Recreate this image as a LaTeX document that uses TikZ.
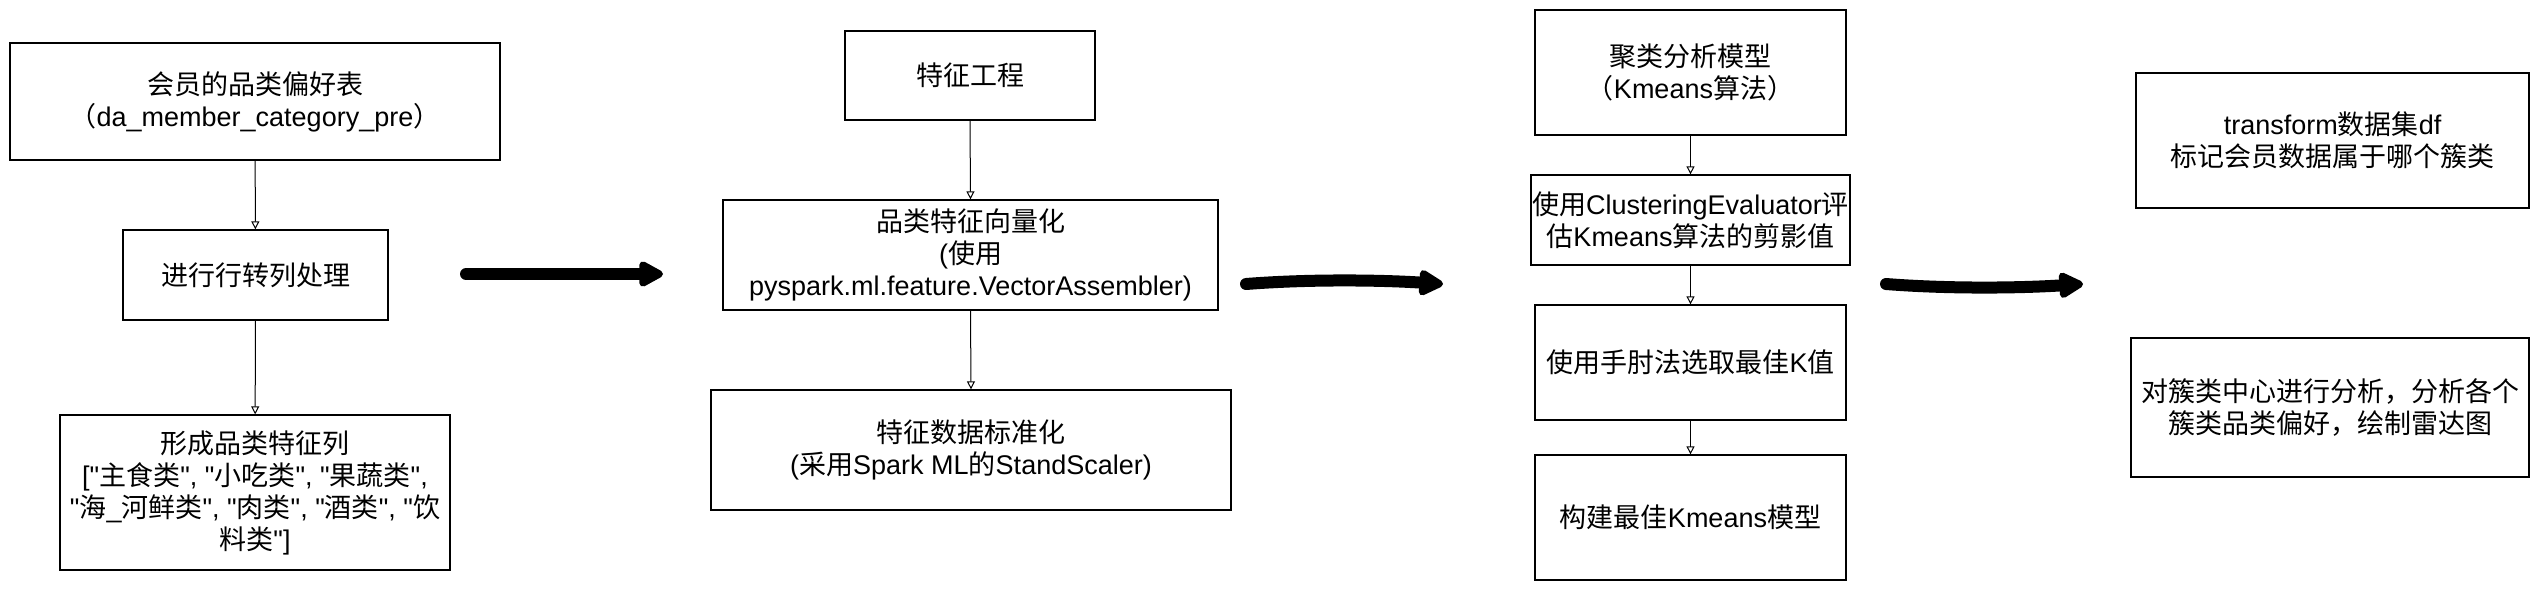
\documentclass[tikz,border=0pt]{standalone}
\usepackage{fontspec}
\setmainfont{Liberation Sans}
\newfontfamily\zhfont{Noto Sans CJK SC}
\newcommand\zh[1]{{\zhfont #1}}
\newcommand\qq{\XeTeXglyph\XeTeXcharglyph"22\relax}
\usetikzlibrary{arrows.meta}
\begin{document}
\begin{tikzpicture}[x=1pt,y=-1pt,
  box/.style={draw=black, line width=1.3pt, fill=white, inner sep=0pt, align=center,
    font=\fontsize{27}{32}\selectfont},
  thin/.style={draw=black, line width=1pt, -{Triangle[open,length=8pt,width=8pt]}},
  big/.style={draw=black, line width=12pt, line cap=round, -{Triangle[length=28pt,width=28pt,round]}}]
\useasboundingbox[fill=white] (0,0) rectangle (2540,592);
% column 1
\node[box, minimum width=490pt, minimum height=117pt] (b1) at (255,101.5)
  {\zh{会员的品类偏好表}\\\zh{（}da\_member\_category\_pre\zh{）}};
\node[box, minimum width=265pt, minimum height=90pt] (b2) at (255.5,275)
  {\zh{进行行转列处理}};
\node[box, minimum width=390pt, minimum height=155pt] (b3) at (255,492.5)
  {\zh{形成品类特征列}\\{[}\qq\zh{主食类}\qq, \qq\zh{小吃类}\qq, \qq\zh{果蔬类}\qq,\\\qq\zh{海}\_\zh{河鲜类}\qq, \qq\zh{肉类}\qq, \qq\zh{酒类}\qq, \qq\zh{饮}\\\zh{料类}\qq]};
% column 2
\node[box, minimum width=250pt, minimum height=89pt] (b4) at (970,75.5)
  {\zh{特征工程}};
\node[box, minimum width=495pt, minimum height=110pt] (b5) at (970.5,255)
  {\zh{品类特征向量化}\\(\zh{使用}\\pyspark.ml.feature.VectorAssembler)};
\node[box, minimum width=520pt, minimum height=120pt] (b6) at (971,450)
  {\zh{特征数据标准化}\\(\zh{采用}Spark ML\zh{的}StandScaler)};
% column 3
\node[box, minimum width=311pt, minimum height=125pt] (b7) at (1690.5,72.5)
  {\zh{聚类分析模型}\\\zh{（}Kmeans\zh{算法）}};
\node[box, minimum width=319pt, minimum height=90pt] (b8) at (1690.5,220)
  {\zh{使用}ClusteringEvaluator\zh{评}\\\zh{估}Kmeans\zh{算法的剪影值}};
\node[box, minimum width=311pt, minimum height=115pt] (b9) at (1690.5,362.5)
  {\zh{使用手肘法选取最佳}K\zh{值}};
\node[box, minimum width=311pt, minimum height=125pt] (b10) at (1690.5,517.5)
  {\zh{构建最佳}Kmeans\zh{模型}};
% column 4
\node[box, minimum width=393pt, minimum height=135pt] (b11) at (2332.5,140.5)
  {transform\zh{数据集}df\\\zh{标记会员数据属于哪个簇类}};
\node[box, minimum width=398pt, minimum height=139pt] (b12) at (2330,407.5)
  {\zh{对簇类中心进行分析，分析各个}\\\zh{簇类品类偏好，绘制雷达图}};
% thin connectors
\draw[thin] (b1) -- (b2);
\draw[thin] (b2) -- (b3);
\draw[thin] (b4.south) -- (b5.north);
\draw[thin] (b5.south) -- (b6.north);
\draw[thin] (b7) -- (b8);
\draw[thin] (b8) -- (b9);
\draw[thin] (b9) -- (b10);
% big arrows
\coordinate (a1s) at (466,274);
\coordinate (a1e) at (663,274);
\coordinate (a2s) at (1246,284);
\coordinate (a2e) at (1443,284);
\coordinate (a3s) at (1886,284);
\coordinate (a3e) at (2083,284);
\draw[big] (a1s) -- (a1e);
\draw[big] (a2s) .. controls (1310,279) and (1380,280) .. (a2e);
\draw[big] (a3s) .. controls (1950,289) and (2020,288) .. (a3e);
\end{tikzpicture}
\end{document}
